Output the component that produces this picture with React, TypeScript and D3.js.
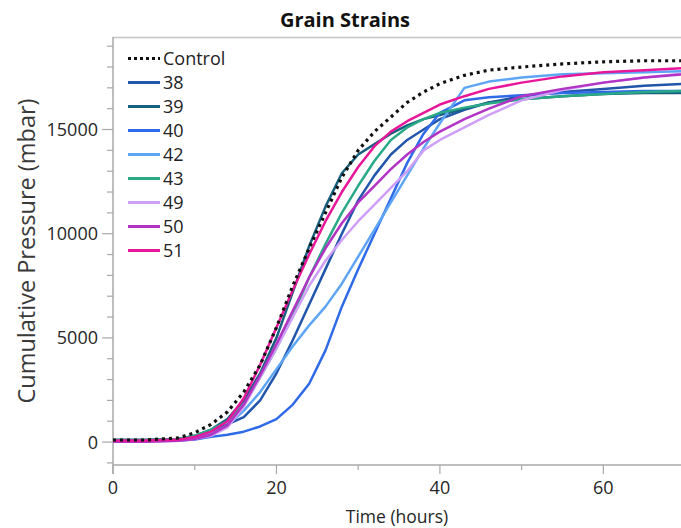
import React from "react";
import * as d3 from "d3";

const hours = [0, 4, 8, 10, 12, 14, 16, 18, 20, 22, 24, 26, 28, 30, 32, 34, 36, 38, 40, 43, 46, 50, 55, 60, 65, 70];

const control = [100, 100, 200, 450, 850, 1450, 2400, 3700, 5500, 7500, 9300, 11000, 12700, 14000, 14900, 15600, 16300, 16800, 17200, 17600, 17850, 18000, 18150, 18250, 18300, 18300];
const s38 = [100, 100, 150, 250, 500, 850, 1200, 2000, 3300, 4900, 6600, 8300, 10000, 11600, 12800, 13800, 14500, 15000, 15500, 15950, 16300, 16600, 16800, 16950, 17100, 17200];
const s39 = [100, 100, 150, 300, 600, 1100, 2000, 3300, 5000, 7200, 9400, 11300, 12900, 13800, 14300, 14800, 15200, 15500, 15700, 16000, 16300, 16450, 16600, 16700, 16750, 16750];
const s40 = [50, 50, 80, 120, 250, 350, 500, 750, 1100, 1800, 2800, 4400, 6500, 8300, 10000, 11700, 13400, 14800, 15800, 16400, 16550, 16650, 16750, 16800, 16850, 16850];
const s42 = [50, 50, 100, 200, 400, 800, 1500, 2400, 3500, 4600, 5600, 6500, 7600, 8900, 10200, 11500, 12800, 14100, 15300, 17000, 17300, 17500, 17650, 17700, 17750, 17800];
const s43 = [100, 100, 150, 300, 600, 1000, 1800, 3100, 4500, 6100, 7900, 9500, 11000, 12300, 13500, 14500, 15100, 15500, 15800, 16050, 16250, 16450, 16600, 16700, 16800, 16850];
const s49 = [20, 20, 60, 150, 300, 700, 1700, 3100, 4500, 6000, 7500, 8700, 9700, 10600, 11400, 12200, 13000, 14000, 14500, 15100, 15700, 16400, 16900, 17250, 17500, 17700];
const s50 = [20, 20, 60, 150, 350, 800, 1800, 3200, 4700, 6300, 7900, 9300, 10500, 11500, 12300, 13100, 13800, 14400, 14900, 15500, 16000, 16600, 16950, 17250, 17500, 17650];
const s51 = [80, 80, 120, 250, 500, 1000, 2100, 3700, 5500, 7300, 9000, 10600, 12000, 13200, 14200, 14900, 15400, 15800, 16200, 16600, 16950, 17250, 17550, 17750, 17850, 17950];

const seriesNames = ["Control", "38", "39", "40", "42", "43", "49", "50", "51"];
const seriesValues = [control, s38, s39, s40, s42, s43, s49, s50, s51];
const seriesColors = ["#111111", "#2256ab", "#17607f", "#2f6ae8", "#5ea6f5", "#2aa987", "#cf9ff8", "#b233c4", "#e8179a"];

const xTicks = [0, 20, 40, 60];
const xMinor = [10, 30, 50, 70];
const yTicks = [0, 5000, 10000, 15000];

const W = 681;
const H = 528;
const left = 113;
const right = 681;
const top = 37;
const bottom = 465;
const FONT = "'Open Sans', 'Noto Sans', sans-serif";

export default function App() {
  const x = d3.scaleLinear().domain([0, 69.5]).range([left, right]);
  const y = d3.scaleLinear().domain([-1100, 19440]).range([bottom, top]);
  const yMinor = d3.range(-1000, 19001, 1000).filter((v) => v % 5000 !== 0);
  const line = d3
    .line<[number, number]>()
    .x((d) => x(d[0]))
    .y((d) => y(d[1]));

  const order = seriesValues.map((vals, i) => ({ vals, i })).slice(1).concat([{ vals: seriesValues[0], i: 0 }]);

  return (
    <div style={{ position: "absolute", left: 0, top: 0 }}>
      <svg width={W} height={H} style={{ display: "block", background: "#fff" }} fontFamily={FONT}>
        <defs>
          <clipPath id="plotClip">
            <rect x={left} y={top} width={right - left} height={bottom - top} />
          </clipPath>
        </defs>
        <text x={345} y={27} textAnchor="middle" fontSize={20} fontWeight="bold" fill="#111">
          Grain Strains
        </text>
        {/* frame */}
        <line x1={left} x2={right} y1={top + 0.5} y2={top + 0.5} stroke="#c4c4c4" strokeWidth={1.5} />
        <line x1={left} x2={left} y1={top} y2={bottom + 9} stroke="#a8a8a8" strokeWidth={1.5} />
        <line x1={left} x2={right} y1={bottom} y2={bottom} stroke="#a8a8a8" strokeWidth={1.5} />
        {/* y ticks */}
        {yMinor.map((v) => (
          <line key={"ym" + v} x1={left - 6} x2={left} y1={y(v)} y2={y(v)} stroke="#a8a8a8" strokeWidth={1.2} />
        ))}
        {yTicks.map((v) => (
          <g key={"y" + v}>
            <line x1={left - 11} x2={left} y1={y(v)} y2={y(v)} stroke="#a8a8a8" strokeWidth={1.2} />
            <text x={98} y={y(v) + 6.5} textAnchor="end" fontSize={18} fill="#262626">
              {v}
            </text>
          </g>
        ))}
        {/* x ticks */}
        {xMinor.map((v) => (
          <line key={"xm" + v} x1={x(v)} x2={x(v)} y1={bottom} y2={bottom + 5} stroke="#a8a8a8" strokeWidth={1.2} />
        ))}
        {xTicks.map((v) => (
          <g key={"x" + v}>
            <line x1={x(v)} x2={x(v)} y1={bottom} y2={bottom + 9} stroke="#a8a8a8" strokeWidth={1.2} />
            <text x={x(v)} y={494} textAnchor="middle" fontSize={18} fill="#262626">
              {v}
            </text>
          </g>
        ))}
        <text x={397} y={523} textAnchor="middle" fontSize={17.5} fill="#262626">
          Time (hours)
        </text>
        <text transform={`translate(35, 251) rotate(-90)`} textAnchor="middle" fontSize={23.5} fill="#3a3a3a">
          Cumulative Pressure (mbar)
        </text>
        {/* series */}
        <g clipPath="url(#plotClip)">
          {order.map(({ vals, i }) => (
            <path
              key={seriesNames[i]}
              d={line(hours.map((h, k) => [h, vals[k]] as [number, number])) || ""}
              fill="none"
              stroke={seriesColors[i]}
              strokeWidth={i === 0 ? 3.2 : 2.5}
              strokeDasharray={i === 0 ? "3,4" : undefined}
              strokeLinejoin="round"
            />
          ))}
        </g>
        {/* legend */}
        {seriesNames.map((n, i) => (
          <g key={"lg" + n} transform={`translate(0, ${58.5 + i * 24})`}>
            <line
              x1={128}
              x2={160}
              y1={0}
              y2={0}
              stroke={seriesColors[i]}
              strokeWidth={i === 0 ? 3.2 : 3}
              strokeDasharray={i === 0 ? "3,3" : undefined}
            />
            <text x={163} y={6.5} fontSize={18} fill="#222">
              {n}
            </text>
          </g>
        ))}
      </svg>
    </div>
  );
}
